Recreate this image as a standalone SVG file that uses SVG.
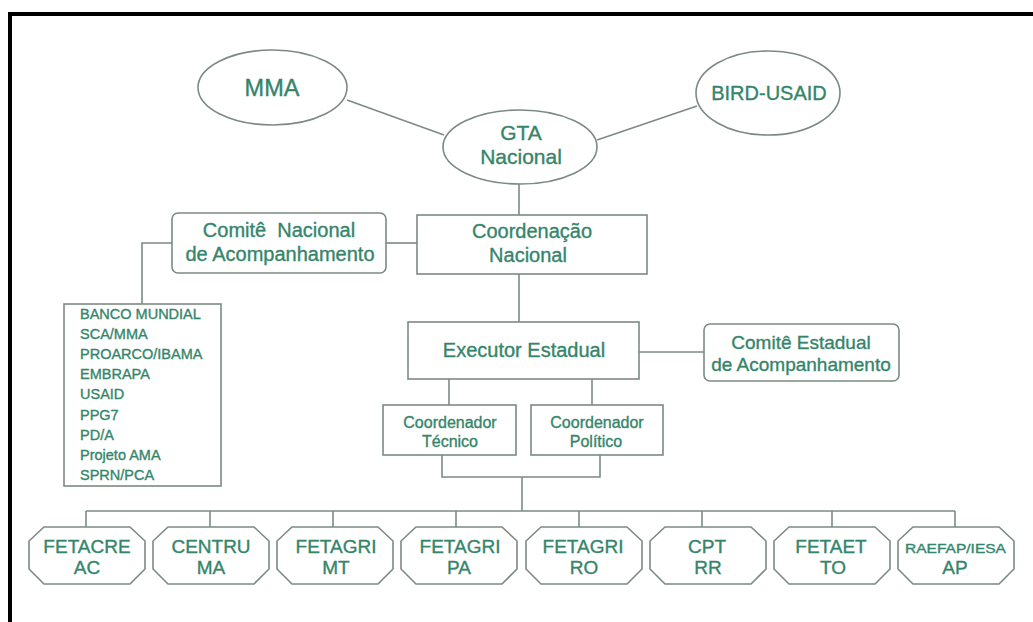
<svg xmlns="http://www.w3.org/2000/svg" width="1033" height="622" viewBox="0 0 1033 622">
<style>
.s{fill:none;stroke:#7d8a84;stroke-width:1.6}
.n{fill:#ffffff;stroke:#7d8a84;stroke-width:1.6}
.t{font-family:"Liberation Sans",Arial,sans-serif;fill:#35856a;stroke:#35856a;stroke-width:0.35;text-anchor:middle}
.l{font-family:"Liberation Sans",Arial,sans-serif;fill:#35856a;stroke:#35856a;stroke-width:0.35;font-size:14.5px}
.f{font-size:19px}
</style>
<rect x="0" y="0" width="1033" height="622" fill="#ffffff"/>
<g id="frame">
<line x1="8" y1="14" x2="1033" y2="14" stroke="#000" stroke-width="4"/>
<line x1="10" y1="12" x2="10" y2="622" stroke="#000" stroke-width="4"/>
</g>
<g id="connectors" class="s">
<line x1="347" y1="100" x2="444" y2="135"/>
<line x1="597" y1="140" x2="697" y2="106"/>
<line x1="519" y1="184" x2="519" y2="215"/>
<line x1="386" y1="243" x2="417" y2="243"/>
<polyline points="172,243 142,243 142,304"/>
<line x1="519" y1="274" x2="519" y2="322"/>
<line x1="639" y1="352" x2="704" y2="352"/>
<line x1="449" y1="379" x2="449" y2="405"/>
<line x1="592" y1="379" x2="592" y2="405"/>
<polyline points="442,455 442,477 600,477 600,455"/>
<line x1="522" y1="477" x2="522" y2="511"/>
<line x1="86" y1="511" x2="955" y2="511"/>
<line x1="86" y1="511" x2="86" y2="527"/>
<line x1="210" y1="511" x2="210" y2="527"/>
<line x1="333" y1="511" x2="333" y2="527"/>
<line x1="456" y1="511" x2="456" y2="527"/>
<line x1="579" y1="511" x2="579" y2="527"/>
<line x1="702" y1="511" x2="702" y2="527"/>
<line x1="832" y1="511" x2="832" y2="527"/>
<line x1="955" y1="511" x2="955" y2="527"/>
</g>
<g id="mma">
<ellipse class="n" cx="272.5" cy="87.5" rx="74.5" ry="37.5"/>
<text class="t" x="272" y="96" font-size="23.5">MMA</text>
</g>
<g id="gta">
<ellipse class="n" cx="520" cy="147" rx="77" ry="37"/>
<text class="t" x="521" y="140" font-size="21">GTA</text>
<text class="t" x="521" y="164" font-size="21">Nacional</text>
</g>
<g id="bird">
<ellipse class="n" cx="768" cy="93" rx="72" ry="42"/>
<text class="t" x="769" y="100" font-size="20">BIRD-USAID</text>
</g>
<g id="comite-nacional">
<rect class="n" x="172" y="213" width="214" height="60" rx="6"/>
<text class="t" x="279" y="237" font-size="20" xml:space="preserve">Comitê  Nacional</text>
<text class="t" x="280" y="261" font-size="20">de Acompanhamento</text>
</g>
<g id="coordenacao">
<rect class="n" x="417" y="215" width="230" height="59"/>
<text class="t" x="532" y="238" font-size="20">Coordenação</text>
<text class="t" x="528" y="262" font-size="20">Nacional</text>
</g>
<g id="lista">
<rect class="n" x="64" y="304" width="157" height="182"/>
<text class="l" x="80" y="319">BANCO MUNDIAL</text>
<text class="l" x="80" y="339">SCA/MMA</text>
<text class="l" x="80" y="359">PROARCO/IBAMA</text>
<text class="l" x="80" y="379">EMBRAPA</text>
<text class="l" x="80" y="399">USAID</text>
<text class="l" x="80" y="420">PPG7</text>
<text class="l" x="80" y="440">PD/A</text>
<text class="l" x="80" y="460">Projeto AMA</text>
<text class="l" x="80" y="480">SPRN/PCA</text>
</g>
<g id="executor">
<rect class="n" x="408" y="322" width="231" height="57"/>
<text class="t" x="524" y="357" font-size="20">Executor Estadual</text>
</g>
<g id="comite-estadual">
<rect class="n" x="704" y="324" width="195" height="57" rx="6"/>
<text class="t" x="801" y="349" font-size="19">Comitê Estadual</text>
<text class="t" x="801" y="371" font-size="19">de Acompanhamento</text>
</g>
<g id="coord-tecnico">
<rect class="n" x="383" y="405" width="133" height="50"/>
<text class="t" x="450" y="428" font-size="16">Coordenador</text>
<text class="t" x="450" y="447" font-size="16">Técnico</text>
</g>
<g id="coord-politico">
<rect class="n" x="531" y="405" width="132" height="50"/>
<text class="t" x="597" y="428" font-size="16">Coordenador</text>
<text class="t" x="596" y="447" font-size="16">Político</text>
</g>
<g id="fetacre">
<polygon class="n" points="44,527 130,527 145,541 145,569 130,584 44,584 29,569 29,541"/>
<text class="t f" x="87" y="553">FETACRE</text>
<text class="t f" x="87" y="574">AC</text>
</g>
<g id="centru">
<polygon class="n" points="168,527 254,527 269,541 269,569 254,584 168,584 153,569 153,541"/>
<text class="t f" x="211" y="553">CENTRU</text>
<text class="t f" x="211" y="574">MA</text>
</g>
<g id="fetagri-mt">
<polygon class="n" points="292,527 378,527 393,541 393,569 378,584 292,584 277,569 277,541"/>
<text class="t f" x="336" y="553">FETAGRI</text>
<text class="t f" x="336" y="574">MT</text>
</g>
<g id="fetagri-pa">
<polygon class="n" points="416,527 502,527 517,541 517,569 502,584 416,584 401,569 401,541"/>
<text class="t f" x="460" y="553">FETAGRI</text>
<text class="t f" x="459" y="574">PA</text>
</g>
<g id="fetagri-ro">
<polygon class="n" points="541,527 627,527 642,541 642,569 627,584 541,584 526,569 526,541"/>
<text class="t f" x="583" y="553">FETAGRI</text>
<text class="t f" x="584" y="574">RO</text>
</g>
<g id="cpt">
<polygon class="n" points="665,527 751,527 766,541 766,569 751,584 665,584 650,569 650,541"/>
<text class="t f" x="707" y="553">CPT</text>
<text class="t f" x="708" y="574">RR</text>
</g>
<g id="fetaet">
<polygon class="n" points="789,527 875,527 890,541 890,569 875,584 789,584 774,569 774,541"/>
<text class="t f" x="831" y="553">FETAET</text>
<text class="t f" x="833" y="574">TO</text>
</g>
<g id="raefap">
<polygon class="n" points="913,527 999,527 1014,541 1014,569 999,584 913,584 898,569 898,541"/>
<text class="t" x="955.5" y="553" font-size="13" textLength="101" lengthAdjust="spacingAndGlyphs">RAEFAP/IESA</text>
<text class="t f" x="955" y="574">AP</text>
</g>
</svg>
